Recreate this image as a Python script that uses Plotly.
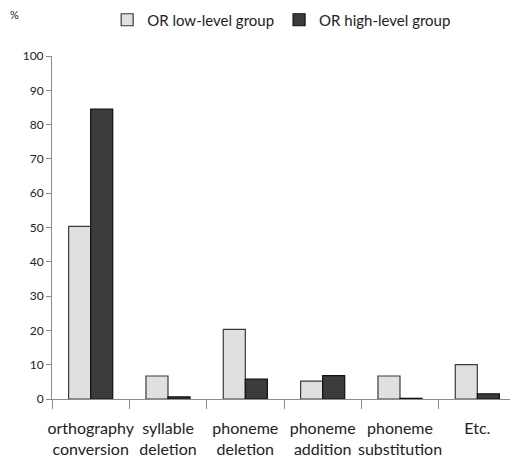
import plotly.graph_objects as go

categories = ["orthography<br>conversion", "syllable<br>deletion", "phoneme<br>deletion",
              "phoneme<br>addition", "phoneme<br>substitution", "Etc."]
low_level = [50.3, 6.7, 20.3, 5.2, 6.7, 10.0]
high_level = [84.5, 0.6, 5.8, 6.8, 0.2, 1.5]
y_ticks = [0, 10, 20, 30, 40, 50, 60, 70, 80, 90, 100]

FONT = "Lato, Roboto, sans-serif"

fig = go.Figure()
fig.add_trace(go.Bar(name="OR low-level group", x=categories, y=low_level,
                     marker=dict(color="#e0e0e0", line=dict(color="#3a3a3a", width=1.2))))
fig.add_trace(go.Bar(name="OR high-level group", x=categories, y=high_level,
                     marker=dict(color="#3c3c3c", line=dict(color="#111111", width=1.2))))

fig.update_layout(
    width=510, height=454,
    margin=dict(l=44, r=2, t=48, b=63, autoexpand=False),
    paper_bgcolor="white", plot_bgcolor="white",
    barmode="group", bargap=0.43, bargroupgap=0,
    font=dict(family=FONT, color="#222222"),
    legend=dict(orientation="h", x=0.495, xanchor="center", y=1 - 12 / 454, yanchor="middle",
                yref="container", font=dict(size=15, family=FONT), itemwidth=30,
                traceorder="normal"),
    showlegend=True,
)
fig.update_yaxes(range=[0, 100], tickvals=y_ticks, showgrid=False, zeroline=False,
                 showline=True, linecolor="#8c8c8c", linewidth=1, automargin=False,
                 ticks="outside", ticklen=5, tickcolor="#8c8c8c",
                 tickfont=dict(size=12, family=FONT, color="#222222"))
fig.update_xaxes(showgrid=False, showline=True, linecolor="#8c8c8c", linewidth=1,
                 ticks="outside", tickson="boundaries", ticklen=9, tickcolor="#8c8c8c",
                 tickangle=0, automargin=False, ticklabelstandoff=15,
                 tickfont=dict(size=16, family=FONT, color="#222222"))
fig.add_annotation(text="%", x=-0.08, y=1.12, xref="paper", yref="paper",
                   xanchor="center", yanchor="middle", showarrow=False,
                   font=dict(size=11, family=FONT))

fig.write_html("out.html")
